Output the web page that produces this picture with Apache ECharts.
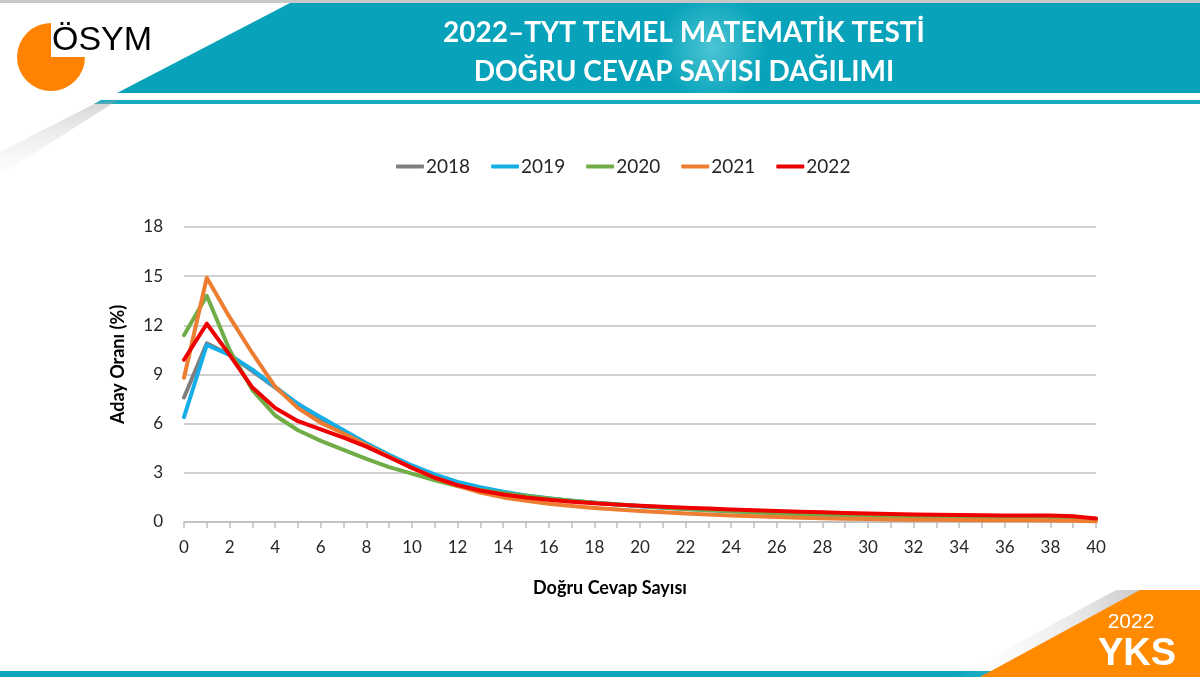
<!DOCTYPE html>
<html>
<head>
<meta charset="utf-8">
<script src="https://cdn.jsdelivr.net/npm/echarts@6/dist/echarts.min.js"></script>
<style>
  html, body { margin: 0; padding: 0; background: #fff; }
  #chart { width: 1200px; height: 677px; }
</style>
</head>
<body>
<div id="chart"></div>
<script>
// dogru cevap sayisi 0..40
var categories = [];
for (var i = 0; i <= 40; i++) categories.push(String(i));

var years = ['2018', '2019', '2020', '2021', '2022'];
var colors = ['#7f7f7f', '#16aee6', '#70ad47', '#ed7d31', '#ee0000'];

// aday orani (%) - okunan degerler
var data2018 = [7.6, 10.9, 10.2, 9.2, 8.2, 7.2, 6.3, 5.5, 4.7, 4.0, 3.4, 2.85, 2.4, 2.05, 1.8, 1.6, 1.42, 1.3, 1.18, 1.08,
    0.98, 0.9, 0.83, 0.76, 0.7, 0.64, 0.58, 0.53, 0.49, 0.45, 0.42, 0.39, 0.36, 0.34, 0.33, 0.32, 0.31, 0.31, 0.3, 0.28, 0.18];
var data2019 = [6.4, 10.8, 10.2, 9.3, 8.25, 7.2, 6.4, 5.6, 4.8, 4.1, 3.45, 2.9, 2.45, 2.12, 1.85, 1.62, 1.45, 1.3, 1.17, 1.06,
    0.96, 0.87, 0.79, 0.72, 0.65, 0.59, 0.53, 0.48, 0.44, 0.4, 0.37, 0.34, 0.32, 0.3, 0.28, 0.27, 0.26, 0.25, 0.24, 0.22, 0.15];
var data2020 = [11.4, 13.8, 10.5, 8.05, 6.5, 5.6, 4.95, 4.4, 3.85, 3.35, 2.95, 2.55, 2.2, 1.95, 1.75, 1.58, 1.44, 1.3, 1.18, 1.07,
    0.97, 0.88, 0.8, 0.73, 0.66, 0.6, 0.54, 0.49, 0.45, 0.41, 0.38, 0.35, 0.33, 0.31, 0.3, 0.29, 0.28, 0.27, 0.26, 0.24, 0.16];
var data2021 = [8.8, 14.9, 12.5, 10.3, 8.25, 6.95, 6.05, 5.4, 4.7, 4.0, 3.3, 2.7, 2.2, 1.8, 1.5, 1.3, 1.12, 0.98, 0.86, 0.76,
    0.67, 0.59, 0.52, 0.46, 0.4, 0.35, 0.3, 0.26, 0.23, 0.2, 0.18, 0.16, 0.14, 0.13, 0.12, 0.11, 0.1, 0.1, 0.09, 0.08, 0.05];
var data2022 = [9.9, 12.1, 10.2, 8.2, 6.95, 6.15, 5.65, 5.15, 4.6, 3.95, 3.3, 2.7, 2.25, 1.92, 1.68, 1.5, 1.36, 1.24, 1.14, 1.06,
    0.99, 0.93, 0.87, 0.82, 0.77, 0.72, 0.67, 0.63, 0.59, 0.55, 0.52, 0.49, 0.46, 0.44, 0.42, 0.41, 0.4, 0.4, 0.39, 0.35, 0.22];
var allData = [data2018, data2019, data2020, data2021, data2022];

var font = 'Lato, "Open Sans", sans-serif';

var series = years.map(function (y, k) {
    return {
        name: y,
        type: 'line',
        data: allData[k],
        symbol: 'none',
        smooth: false,
        lineStyle: { width: 4, color: colors[k], cap: 'round', join: 'round' },
        itemStyle: { color: colors[k] },
        z: 3 + k
    };
});

// sayfa susleri (baslik bandi, logo, kose)
var graphics = [
    { type: 'rect', shape: { x: 0, y: 0, width: 1200, height: 3 }, style: { fill: '#c8c8c8' } },
    {
        type: 'polygon', shape: { points: [[290, 3], [1200, 3], [1200, 93], [117, 93]] },
        style: {
            fill: new echarts.graphic.RadialGradient(0.55, 0.5, 0.6, [
                { offset: 0, color: '#4cc5d4' },
                { offset: 1, color: '#08a3ba' }
            ])
        }
    },
    { type: 'polygon', shape: { points: [[101, 100], [1200, 100], [1200, 104], [94, 104]] }, style: { fill: '#19abc1' } },
    {
        type: 'polygon', shape: { points: [[96, 103], [118, 100], [0, 175], [0, 152]] },
        style: {
            fill: new echarts.graphic.LinearGradient(0, 0, 0, 1, [
                { offset: 0, color: 'rgba(160,160,160,0.45)' },
                { offset: 1, color: 'rgba(220,220,220,0.05)' }
            ])
        }
    },
    { type: 'circle', shape: { cx: 51, cy: 57, r: 34 }, style: { fill: '#ff8300' } },
    { type: 'rect', shape: { x: 51, y: 20, width: 36, height: 37 }, style: { fill: '#fff' } },
    {
        type: 'text', x: 52, y: 24,
        style: { text: 'ÖSYM', fill: '#000', font: '34px "Liberation Sans", Arial, sans-serif' }
    },
    {
        type: 'text', x: 684, y: 33,
        style: { text: '2022–TYT TEMEL MATEMATİK TESTİ', fill: '#fff', align: 'center', verticalAlign: 'middle',
            font: 'bold 28px ' + font }
    },
    {
        type: 'text', x: 684, y: 72,
        style: { text: 'DOĞRU CEVAP SAYISI DAĞILIMI', fill: '#fff', align: 'center', verticalAlign: 'middle',
            font: 'bold 28px ' + font }
    },
    { type: 'rect', shape: { x: 0, y: 671, width: 1000, height: 6 }, style: { fill: '#0aa5bd' } },
    {
        type: 'polygon', shape: { points: [[1116, 590], [1146, 590], [990, 677], [955, 677]] },
        style: {
            fill: new echarts.graphic.LinearGradient(0, 0, 1, 0, [
                { offset: 0, color: 'rgba(255,255,255,0)' },
                { offset: 1, color: 'rgba(160,160,160,0.6)' }
            ])
        }
    },
    { type: 'polygon', shape: { points: [[1140, 590], [1200, 590], [1200, 677], [980, 677]] }, style: { fill: '#ff8a00' } },
    {
        type: 'text', x: 1131, y: 622,
        style: { text: '2022', fill: '#fff', align: 'center', verticalAlign: 'middle',
            font: '21px "Liberation Sans", Arial, sans-serif' }
    },
    {
        type: 'text', x: 1137, y: 655,
        style: { text: 'YKS', fill: '#fff', align: 'center', verticalAlign: 'middle',
            font: 'bold 38px "Liberation Sans", Arial, sans-serif' }
    }
];

var option = {
    animation: false,
    backgroundColor: '#fff',
    color: colors,
    graphic: graphics,
    legend: {
        data: years,
        left: 391,
        top: 152,
        icon: 'roundRect',
        itemWidth: 28,
        itemHeight: 4,
        itemGap: 21,
        textStyle: { fontFamily: font, fontSize: 19, color: '#262626', padding: [0, 0, 0, -3] }
    },
    grid: {
        left: 184,
        right: 104,
        top: 227,
        bottom: 155
    },
    xAxis: {
        type: 'category',
        boundaryGap: false,
        data: categories,
        name: 'Doğru Cevap Sayısı',
        nameLocation: 'middle',
        nameGap: 57,
        nameTextStyle: { fontFamily: font, fontSize: 18, fontWeight: 'bold', color: '#000', padding: [0, 60, 0, 0] },
        axisLine: { lineStyle: { color: '#bfbfbf', width: 1.5 } },
        axisTick: { show: true, interval: 0, length: 6, lineStyle: { color: '#bfbfbf', width: 1.5 } },
        axisLabel: { interval: 1, margin: 17, fontFamily: font, fontSize: 17, color: '#262626' },
        splitLine: { show: false }
    },
    yAxis: {
        type: 'value',
        min: 0,
        max: 18,
        interval: 3,
        name: 'Aday Oranı (%)',
        nameLocation: 'middle',
        nameGap: 57,
        nameRotate: 90,
        nameTextStyle: { fontFamily: font, fontSize: 18, fontWeight: 'bold', color: '#000', padding: [0, 0, 0, 20] },
        axisLine: { show: false },
        axisTick: { show: false },
        axisLabel: { margin: 21, fontFamily: font, fontSize: 17, color: '#262626' },
        splitLine: { lineStyle: { color: '#bfbfbf', width: 1.5 } }
    },
    series: series
};

var myChart = echarts.init(document.getElementById('chart'));
myChart.setOption(option);
</script>
</body>
</html>
